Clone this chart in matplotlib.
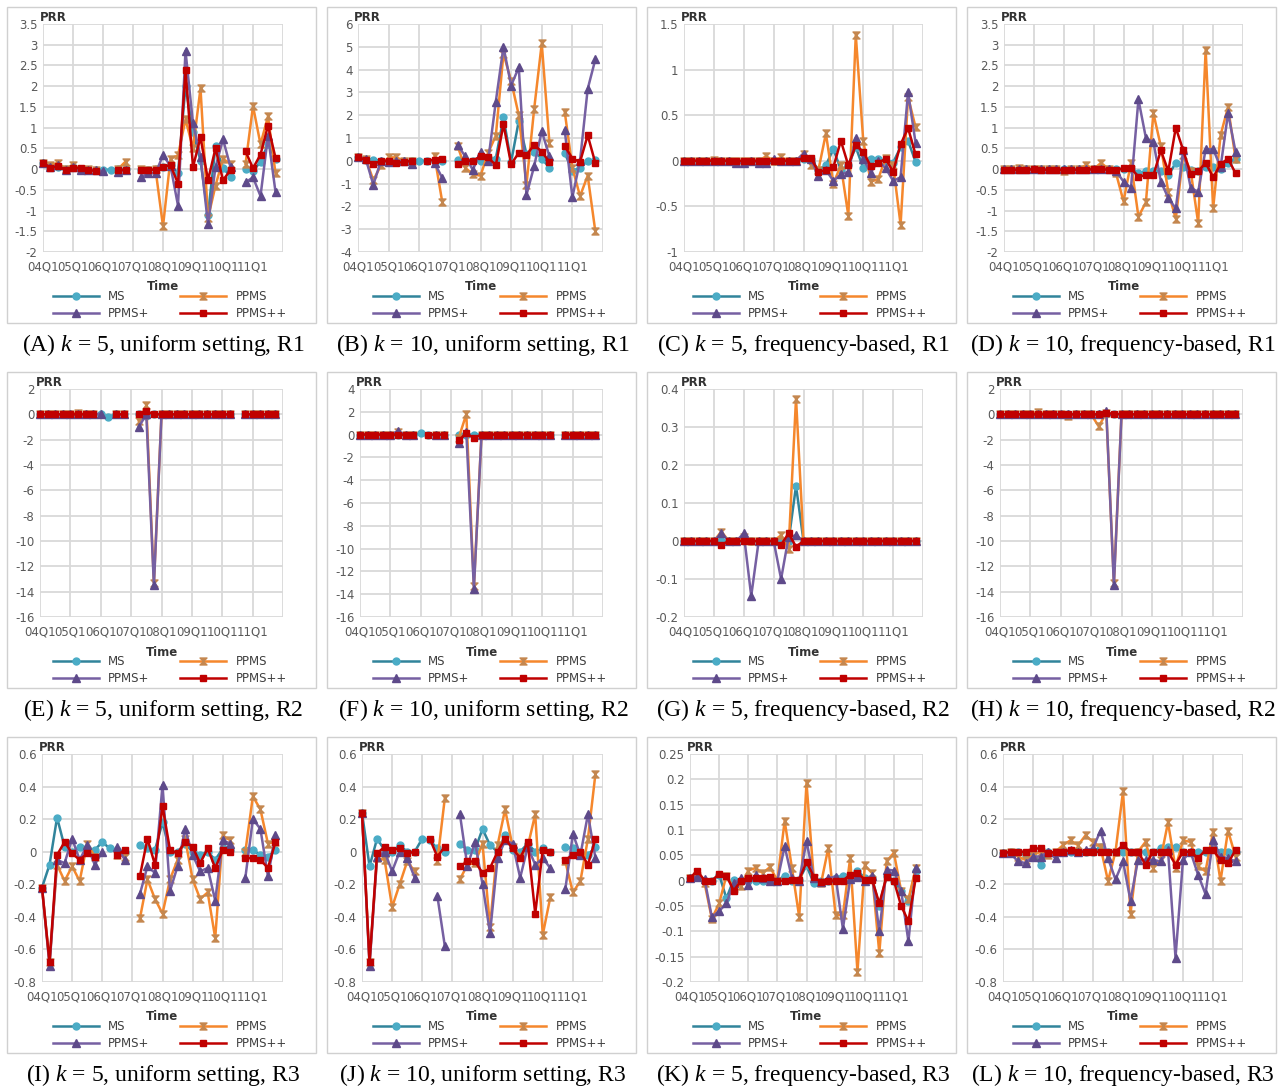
import numpy as np
import matplotlib
matplotlib.use("Agg")
import matplotlib.pyplot as plt
from matplotlib.path import Path
from matplotlib.patches import Rectangle

plt.rcParams["font.family"] = ["DejaVu Sans"]
plt.rcParams["axes.unicode_minus"] = False
plt.rcParams["mathtext.fontset"] = "custom"
plt.rcParams["mathtext.rm"] = "Liberation Serif"
plt.rcParams["mathtext.it"] = "Liberation Serif:italic"

n = None

# eixo do tempo: 32 trimestres, 04Q1 .. 11Q4
quarters = [f"{y:02d}Q{q}" for y in range(4, 12) for q in range(1, 5)]
year_labels = ["04Q1", "05Q1", "06Q1", "07Q1", "08Q1", "09Q1", "10Q1", "11Q1"]
series_names = ["MS", "PPMS", "PPMS+", "PPMS++"]

# (A) k=5, uniform, R1
a_ms = [0.15, 0.08, 0.05, 0.0, 0.05, 0.0, -0.03, -0.03, -0.03, -0.01, 0.0, 0.0, n, -0.02, -0.02, 0.0,
        0.05, 0.1, -0.1, 2.0, 0.9, 0.2, -1.1, 0.55, 0.03, -0.18, n, 0.0, -0.05, 0.18, 0.6, 0.25]
a_ppms = [0.15, 0.1, 0.15, 0.0, 0.1, 0.0, 0.0, -0.03, n, n, 0.0, 0.18, n, 0.0, -0.02, 0.0,
          -1.38, 0.25, 0.33, 1.2, 0.5, 1.95, -1.18, -0.4, 0.25, 0.12, n, 0.12, 1.52, 0.6, 1.27, -0.1]
a_plus = [0.15, 0.05, 0.1, -0.03, 0.05, -0.02, -0.02, -0.02, -0.05, n, -0.08, -0.02, n, -0.2, -0.1, -0.1,
          0.33, 0.08, -0.88, 2.85, 1.1, 0.3, -1.33, 0.05, 0.72, 0.05, n, -0.32, -0.2, -0.65, 0.8, -0.55]
a_pp = [0.15, 0.03, 0.07, -0.02, 0.02, 0.03, -0.03, -0.04, n, n, -0.02, -0.02, n, -0.02, -0.02, -0.01,
        0.05, 0.1, -0.35, 2.38, 0.05, 0.77, -0.27, 0.5, -0.27, -0.02, n, 0.43, 0.02, 0.35, 1.05, 0.27]

# (B) k=10, uniform, R1
b_ms = [0.15, 0.05, 0.05, 0.0, 0.0, 0.0, 0.0, 0.0, 0.0, 0.0, 0.0, 0.0, n, 0.05, 0.0, 0.0,
        0.0, 0.1, 0.1, 1.9, -0.05, 1.75, 0.3, 0.4, 0.1, -0.3, n, 0.35, -0.45, -0.3, 0.0, 0.05]
b_ppms = [0.15, 0.1, -0.85, -0.2, 0.15, 0.15, 0.0, 0.0, n, n, 0.2, -1.8, n, 0.65, -0.3, -0.6,
          -0.65, 0.35, 1.1, 4.7, 3.5, 2.0, -1.05, 2.25, 5.15, 0.8, n, 2.15, -0.3, -1.55, -0.65, -3.1]
b_plus = [0.15, 0.1, -1.05, 0.0, -0.05, 0.0, 0.0, -0.12, n, n, -0.1, -0.75, n, 0.7, 0.2, -0.4,
          0.4, 0.0, 2.6, 5.0, 3.3, 4.1, -1.5, -0.25, 1.3, 0.2, n, 1.35, -1.6, 0.0, 3.15, 4.45]
b_pp = [0.15, 0.05, -0.15, 0.0, 0.0, -0.1, -0.05, 0.0, n, 0.0, 0.05, 0.07, n, -0.15, 0.0, 0.0,
        0.2, 0.15, -0.2, 1.6, -0.15, 0.35, 0.25, 0.7, 0.4, -0.05, n, 0.65, 0.1, -0.05, 1.12, -0.1]

# (C) k=5, frequency-based, R1
c_ms = [0.0, 0.0, 0.0, 0.0, 0.0, 0.0, 0.0, -0.01, -0.01, 0.0, 0.0, 0.0, 0.0, 0.0, 0.0, 0.0,
        0.02, 0.02, -0.1, -0.05, 0.13, -0.1, -0.05, 0.15, -0.08, 0.02, 0.02, 0.0, -0.02, 0.15, 0.22, -0.01]
c_ppms = [0.0, 0.0, 0.0, 0.0, 0.01, 0.0, 0.0, 0.0, 0.0, 0.0, 0.0, 0.05, 0.0, 0.04, 0.0, 0.0,
          0.08, -0.05, -0.1, 0.3, -0.25, -0.05, -0.6, 1.38, 0.22, -0.23, -0.2, 0.03, -0.05, -0.7, 0.7, 0.37]
c_plus = [0.0, 0.0, 0.0, 0.0, 0.0, 0.0, 0.0, -0.02, -0.02, 0.0, -0.02, -0.02, 0.02, 0.0, 0.0, 0.0,
          0.08, 0.02, -0.17, -0.1, -0.22, -0.15, -0.12, 0.25, 0.02, -0.13, 0.0, -0.08, -0.22, -0.18, 0.75, 0.2]
c_pp = [0.0, 0.0, 0.0, 0.0, 0.0, 0.0, 0.0, 0.0, 0.0, 0.0, 0.0, 0.0, 0.0, 0.0, 0.0, 0.0,
        0.03, 0.03, -0.12, -0.1, -0.07, 0.22, -0.05, 0.17, 0.1, -0.06, -0.02, 0.02, -0.12, 0.18, 0.36, 0.07]

# (D) k=10, frequency-based, R1
d_ms = [0.0, 0.0, 0.0, 0.0, 0.0, 0.0, 0.0, 0.0, 0.0, 0.0, 0.0, 0.0, 0.0, 0.0, 0.0, 0.0,
        0.0, 0.0, -0.1, -0.05, -0.05, -0.05, -0.15, 0.15, 0.05, -0.02, -0.05, 0.05, 0.05, 0.0, 0.15, 0.25]
d_ppms = [0.0, 0.0, 0.03, 0.0, 0.0, 0.0, 0.0, 0.0, -0.05, 0.0, 0.0, 0.1, 0.0, 0.15, 0.0, -0.1,
          -0.78, 0.15, -1.15, -0.8, 1.35, 0.55, -0.55, -1.2, 0.35, -0.05, -1.3, 2.88, -0.95, 0.82, 1.5, 0.25]
d_plus = [0.0, 0.0, 0.0, 0.0, 0.0, 0.0, 0.0, 0.0, 0.0, 0.0, 0.0, 0.0, 0.0, 0.0, 0.0, -0.05,
          -0.3, -0.45, 1.68, 0.75, 0.65, -0.3, -0.7, -0.95, 0.45, -0.45, -0.55, 0.48, 0.48, 0.05, 1.35, 0.42]
d_pp = [-0.02, -0.02, -0.02, -0.02, 0.0, -0.02, -0.02, -0.02, -0.02, -0.02, -0.02, -0.02, 0.0, 0.0, -0.02, -0.02,
        0.02, 0.02, -0.18, -0.15, -0.15, 0.45, -0.05, 1.0, 0.45, -0.12, -0.05, 0.15, -0.2, 0.12, 0.25, -0.1]

# (E) k=5, uniform, R2
e_ms = [0.0, 0.0, 0.0, 0.0, 0.0, 0.0, 0.0, 0.0, 0.0, -0.2, 0.0, 0.0, n, 0.0, -0.1, 0.05,
        0.0, 0.0, 0.0, 0.0, 0.0, 0.0, 0.0, 0.0, 0.0, 0.0, n, 0.0, 0.0, 0.0, 0.0, 0.0]
e_ppms = [0.0, 0.0, 0.0, 0.0, 0.05, 0.1, 0.0, 0.0, n, n, 0.0, 0.0, n, -0.5, 0.7, -13.3,
          0.0, 0.0, 0.0, 0.0, 0.0, 0.0, 0.0, 0.0, 0.0, 0.0, n, 0.0, 0.0, 0.0, 0.0, 0.0]
e_plus = [0.0, 0.0, 0.0, 0.0, 0.0, 0.0, 0.0, 0.0, 0.05, n, 0.0, 0.0, n, -1.0, 0.0, -13.5,
          0.0, 0.0, 0.0, 0.0, 0.0, 0.0, 0.0, 0.0, 0.0, 0.0, n, 0.0, 0.0, 0.0, 0.0, 0.0]
e_pp = [0.0, 0.0, 0.0, 0.0, 0.0, 0.0, 0.0, 0.0, n, n, 0.0, 0.0, n, 0.0, 0.25, 0.0,
        0.0, 0.0, 0.0, 0.0, 0.0, 0.0, 0.0, 0.0, 0.0, 0.0, n, 0.0, 0.0, 0.0, 0.0, 0.0]

# (F) k=10, uniform, R2
f_ms = [0.0, 0.0, 0.0, 0.0, 0.0, 0.0, 0.0, 0.0, 0.1, 0.0, 0.0, 0.0, n, 0.0, 0.0, 0.0,
        0.0, 0.0, 0.0, 0.0, 0.0, 0.0, 0.0, 0.0, 0.0, 0.0, n, 0.0, 0.0, 0.0, 0.0, 0.0]
f_ppms = [0.0, 0.0, 0.0, 0.0, 0.0, 0.2, 0.0, 0.0, n, n, 0.0, 0.0, n, -0.3, 1.8, -13.3,
          0.0, 0.0, 0.0, 0.0, 0.0, 0.0, 0.0, 0.0, 0.0, 0.0, n, 0.0, 0.0, 0.0, 0.0, 0.0]
f_plus = [0.0, 0.0, 0.0, 0.0, 0.0, 0.3, 0.0, 0.0, n, n, 0.0, 0.0, n, -0.7, 0.2, -13.5,
          0.0, 0.0, 0.0, 0.0, 0.0, 0.0, 0.0, 0.0, 0.0, 0.0, n, 0.0, 0.0, 0.0, 0.0, 0.0]
f_pp = [0.0, 0.0, 0.0, 0.0, 0.0, 0.0, 0.0, 0.0, n, 0.0, 0.0, 0.0, n, -0.5, 0.1, -0.3,
        0.0, 0.0, 0.0, 0.0, 0.0, 0.0, 0.0, 0.0, 0.0, 0.0, n, 0.0, 0.0, 0.0, 0.0, 0.0]

# (G) k=5, frequency-based, R2
g_ms = [0.0, 0.0, 0.0, 0.0, 0.0, 0.0, 0.0, 0.0, 0.0, 0.0, 0.0, 0.0, 0.0, 0.0, 0.0, 0.145,
        0.0, 0.0, 0.0, 0.0, 0.0, 0.0, 0.0, 0.0, 0.0, 0.0, 0.0, 0.0, 0.0, 0.0, 0.0, 0.0]
g_ppms = [0.0, 0.0, 0.0, 0.0, 0.0, 0.025, 0.0, 0.0, 0.01, 0.0, 0.0, 0.0, 0.0, 0.015, -0.02, 0.375,
          0.0, 0.0, 0.0, 0.0, 0.0, 0.0, 0.0, 0.0, 0.0, 0.0, 0.0, 0.0, 0.0, 0.0, 0.0, 0.0]
g_plus = [0.0, 0.0, 0.0, 0.0, 0.0, 0.02, 0.0, 0.0, 0.02, -0.145, 0.0, 0.0, 0.0, -0.1, 0.01, 0.015,
          0.0, 0.0, 0.0, 0.0, 0.0, 0.0, 0.0, 0.0, 0.0, 0.0, 0.0, 0.0, 0.0, 0.0, 0.0, 0.0]
g_pp = [0.0, 0.0, 0.0, 0.0, 0.0, -0.01, 0.0, 0.0, 0.0, 0.0, 0.0, 0.0, 0.0, -0.01, 0.02, -0.015,
        0.0, 0.0, 0.0, 0.0, 0.0, 0.0, 0.0, 0.0, 0.0, 0.0, 0.0, 0.0, 0.0, 0.0, 0.0, 0.0]

# (H) k=10, frequency-based, R2
h_ms = [0.0, 0.0, 0.0, 0.0, 0.0, 0.0, 0.0, 0.0, 0.05, 0.0, 0.0, 0.0, 0.0, 0.0, 0.0, 0.0,
        0.0, 0.0, 0.0, 0.0, 0.0, 0.0, 0.0, 0.0, 0.0, 0.0, 0.0, 0.0, 0.0, 0.0, 0.0, 0.0]
h_ppms = [0.0, 0.0, 0.0, 0.0, 0.0, 0.2, 0.0, 0.0, 0.0, -0.1, 0.0, 0.0, 0.0, -0.95, 0.1, -13.3,
          0.0, 0.0, 0.0, 0.0, 0.0, 0.0, 0.0, 0.0, 0.0, 0.0, 0.0, 0.0, 0.0, 0.0, 0.0, 0.0]
h_plus = [0.0, 0.0, 0.0, 0.0, 0.0, 0.0, 0.0, 0.0, 0.0, 0.0, 0.0, 0.0, 0.0, 0.0, 0.3, -13.5,
          0.0, 0.0, 0.0, 0.0, 0.0, 0.0, 0.0, 0.0, 0.0, 0.0, 0.0, 0.0, 0.0, 0.0, 0.0, 0.0]
h_pp = [0.0, 0.0, 0.0, 0.0, 0.0, 0.0, 0.0, 0.0, 0.0, 0.0, 0.0, 0.0, 0.0, 0.0, 0.1, 0.05,
        0.0, 0.0, 0.0, 0.0, 0.0, 0.0, 0.0, 0.0, 0.0, 0.0, 0.0, 0.0, 0.0, 0.0, 0.0, 0.0]

# (I) k=5, uniform, R3
i_ms = [-0.22, -0.08, 0.21, 0.03, 0.0, 0.03, 0.02, 0.01, 0.06, 0.02, 0.01, 0.0, n, 0.04, 0.02, 0.01,
        0.18, 0.0, 0.0, 0.05, 0.0, -0.02, 0.0, -0.05, 0.02, 0.01, n, 0.01, 0.01, -0.02, -0.03, 0.01]
i_ppms = [-0.22, -0.68, -0.08, -0.18, -0.09, -0.18, 0.05, -0.03, n, n, -0.02, -0.03, n, -0.41, -0.17, -0.29,
          -0.38, -0.17, -0.05, 0.08, -0.17, -0.29, -0.25, -0.53, 0.1, 0.07, n, 0.0, 0.34, 0.26, 0.05, 0.06]
i_plus = [-0.22, -0.7, -0.05, -0.07, 0.08, -0.05, 0.04, -0.08, 0.0, n, 0.03, -0.05, n, -0.26, -0.09, -0.13,
          0.41, -0.24, -0.09, 0.14, -0.02, -0.12, -0.1, -0.3, 0.07, 0.05, n, -0.16, 0.2, 0.14, -0.15, 0.1]
i_pp = [-0.22, -0.68, -0.02, 0.06, -0.01, -0.05, -0.01, -0.03, n, n, -0.02, 0.01, n, -0.15, 0.08, -0.08,
        0.28, 0.01, -0.01, 0.06, 0.03, -0.07, 0.02, -0.1, 0.01, 0.0, n, -0.04, -0.04, -0.05, -0.1, 0.06]

# (J) k=10, uniform, R3
j_ms = [0.24, -0.09, 0.08, 0.01, 0.0, 0.04, 0.0, 0.0, 0.08, 0.07, 0.02, 0.0, n, 0.05, 0.01, 0.01,
        0.14, 0.04, 0.0, 0.1, 0.01, 0.0, 0.05, 0.0, 0.02, 0.0, n, 0.03, 0.02, 0.0, -0.02, 0.03]
j_ppms = [0.24, -0.68, -0.04, -0.05, -0.34, -0.2, -0.06, -0.12, n, n, -0.06, 0.33, n, -0.17, -0.08, -0.07,
          0.05, -0.46, 0.04, 0.26, 0.03, -0.03, 0.03, 0.23, -0.51, -0.28, n, -0.06, -0.25, -0.18, 0.08, 0.48]
j_plus = [0.24, -0.7, -0.03, 0.0, -0.12, 0.0, -0.04, -0.16, n, n, -0.27, -0.58, n, 0.23, -0.09, 0.06,
          -0.2, -0.5, -0.04, 0.07, 0.05, -0.16, 0.03, -0.08, -0.04, -0.1, n, -0.23, 0.11, -0.02, 0.23, -0.04]
j_pp = [0.24, -0.68, -0.01, 0.03, 0.01, 0.02, -0.01, 0.0, n, 0.08, -0.03, 0.03, n, -0.09, -0.06, -0.06,
        -0.13, -0.1, 0.0, 0.08, 0.02, -0.04, 0.06, -0.38, 0.01, 0.0, n, -0.05, -0.02, 0.0, -0.08, 0.08]

# (K) k=5, frequency-based, R3
k_ms = [0.005, 0.01, 0.0, 0.0, 0.012, -0.035, 0.002, 0.0, 0.0, 0.0, 0.0, 0.0, 0.0, 0.01, 0.0, 0.002,
        0.03, -0.005, 0.0, 0.0, 0.005, 0.01, 0.005, 0.02, 0.005, 0.005, -0.05, 0.01, 0.0, -0.02, -0.04, 0.02]
k_ppms = [0.005, 0.01, -0.005, -0.075, -0.045, 0.01, -0.015, -0.01, 0.02, 0.025, 0.015, 0.027, 0.0, 0.118, 0.025, -0.072,
          0.193, 0.005, -0.005, 0.065, -0.068, -0.068, 0.045, -0.18, 0.03, 0.015, -0.143, 0.038, 0.055, -0.02, -0.037, 0.025]
k_plus = [0.005, 0.008, 0.003, -0.072, -0.06, -0.045, -0.005, 0.005, -0.008, 0.012, 0.005, 0.0, 0.0, 0.068, 0.005, 0.0,
          0.078, 0.005, -0.002, 0.005, 0.008, -0.095, 0.003, 0.008, 0.0, 0.01, -0.1, 0.022, 0.02, -0.02, -0.12, 0.025]
k_pp = [0.005, 0.02, 0.0, 0.0, 0.013, 0.01, -0.02, 0.0, 0.005, 0.005, 0.005, 0.008, 0.0, 0.0, 0.002, 0.002,
        0.037, 0.008, -0.003, 0.0, 0.0, 0.0, 0.012, 0.015, 0.002, 0.002, -0.045, 0.008, 0.0, -0.05, -0.08, 0.005]

# (L) k=10, frequency-based, R3
l_ms = [-0.01, 0.0, 0.0, -0.02, 0.0, -0.08, 0.0, -0.01, 0.0, 0.0, 0.0, 0.0, 0.0, 0.03, 0.0, 0.0,
        0.0, 0.0, 0.0, 0.0, 0.0, 0.02, 0.03, 0.03, 0.0, 0.0, 0.0, 0.0, 0.03, 0.0, 0.0, 0.0]
l_ppms = [-0.01, 0.0, -0.03, -0.05, -0.02, 0.0, -0.02, 0.0, 0.04, 0.07, 0.04, 0.1, 0.06, 0.03, -0.18, 0.0,
          0.37, -0.38, 0.0, 0.06, -0.1, -0.05, 0.18, -0.1, 0.07, 0.06, -0.09, -0.12, 0.12, -0.18, 0.13, -0.03]
l_plus = [-0.01, -0.01, -0.06, -0.07, -0.03, -0.03, 0.0, -0.04, 0.0, 0.01, 0.0, 0.01, 0.02, 0.13, -0.04, -0.17,
          -0.06, -0.3, -0.05, -0.05, -0.05, -0.06, 0.01, -0.65, -0.05, 0.0, -0.14, -0.26, 0.07, -0.03, -0.04, -0.06]
l_pp = [-0.01, 0.0, 0.0, 0.0, 0.02, 0.02, -0.01, 0.0, 0.0, 0.01, 0.0, 0.0, 0.0, 0.0, 0.0, 0.0,
        0.04, 0.0, 0.0, -0.08, 0.0, 0.0, 0.0, -0.08, 0.0, 0.0, -0.04, 0.01, 0.01, -0.05, -0.07, 0.01]

captions = [
    "(A) $k$ = 5, uniform setting, R1", "(B) $k$ = 10, uniform setting, R1",
    "(C) $k$ = 5, frequency-based, R1", "(D) $k$ = 10, frequency-based, R1",
    "(E) $k$ = 5, uniform setting, R2", "(F) $k$ = 10, uniform setting, R2",
    "(G) $k$ = 5, frequency-based, R2", "(H) $k$ = 10, frequency-based, R2",
    "(I) $k$ = 5, uniform setting, R3", "(J) $k$ = 10, uniform setting, R3",
    "(K) $k$ = 5, frequency-based, R3", "(L) $k$ = 10, frequency-based, R3",
]
panel_data = [
    (a_ms, a_ppms, a_plus, a_pp), (b_ms, b_ppms, b_plus, b_pp),
    (c_ms, c_ppms, c_plus, c_pp), (d_ms, d_ppms, d_plus, d_pp),
    (e_ms, e_ppms, e_plus, e_pp), (f_ms, f_ppms, f_plus, f_pp),
    (g_ms, g_ppms, g_plus, g_pp), (h_ms, h_ppms, h_plus, h_pp),
    (i_ms, i_ppms, i_plus, i_pp), (j_ms, j_ppms, j_plus, j_pp),
    (k_ms, k_ppms, k_plus, k_pp), (l_ms, l_ppms, l_plus, l_pp),
]
# (ymin, ymax, passo)
y_axes = [(-2, 3.5, 0.5), (-4, 6, 1), (-1, 1.5, 0.5), (-2, 3.5, 0.5),
          (-16, 2, 2), (-16, 4, 2), (-0.2, 0.4, 0.1), (-16, 2, 2),
          (-0.8, 0.6, 0.2), (-0.8, 0.6, 0.2), (-0.2, 0.25, 0.05), (-0.8, 0.6, 0.2)]
left_pad = [36, 31, 37, 37, 33, 33, 37, 33, 35, 35, 43, 36]

# marcador "estrela" do Excel (ampulheta)
hourglass = Path([(-1, 1), (1, 1), (-1, -1), (1, -1), (-1, 1)],
                 [Path.MOVETO, Path.LINETO, Path.LINETO, Path.LINETO, Path.CLOSEPOLY])
styles = [
    dict(color="#31849B", marker="o", mfc="#4BACC6", mec="#4BACC6", ms=5.0),
    dict(color="#F5872C", marker=hourglass, mfc="#C4874F", mec="#C4874F", ms=5.0),
    dict(color="#7660A2", marker="^", mfc="#5E4A8A", mec="#5E4A8A", ms=5.5),
    dict(color="#C00000", marker="s", mfc="#C00000", mec="#C00000", ms=5.0),
]

W, H = 1284, 1086
fig = plt.figure(figsize=(W / 100, H / 100), dpi=100)
tick_col = "#595959"
grid_col = "#d9d9d9"
fs = 8.5
x = np.arange(len(quarters))

for idx in range(12):
    r, c = divmod(idx, 4)
    bl, bt = 7 + 320 * c, 7 + 365 * r
    bw, bh = 309, 316

    fig.patches.append(Rectangle((bl / W, 1 - (bt + bh) / H), bw / W, bh / H,
                                 transform=fig.transFigure, fill=False,
                                 ec="#d0d0d0", lw=1.0))

    al = bl + left_pad[idx]
    ar = bl + bw - 33
    at, ab = bt + 17, bt + 245
    ax = fig.add_axes([al / W, 1 - ab / H, (ar - al) / W, (ab - at) / H])

    lines = []
    for s, (vals, st) in enumerate(zip(panel_data[idx], styles)):
        y = np.array(vals, dtype=float)
        ln, = ax.plot(x, y, lw=1.8, clip_on=False, zorder=3 + s, label=series_names[s], **st)
        lines.append(ln)

    ymin, ymax, step = y_axes[idx]
    yt = np.round(np.arange(ymin, ymax + step / 2, step), 2)
    ax.set_ylim(ymin, ymax)
    ax.set_yticks(yt)
    ax.set_yticklabels([f"{v:g}" if abs(v) > 1e-9 else "0" for v in yt])
    ax.set_xlim(0, 32)
    ax.set_xticks(range(0, 33, 4))
    ax.set_xticklabels(year_labels + [""])
    ax.tick_params(length=0, labelsize=fs, colors=tick_col)
    ax.tick_params(axis="y", pad=4)
    ax.tick_params(axis="x", pad=6)
    for sp in ax.spines.values():
        sp.set_visible(False)
    ax.grid(True, color=grid_col, lw=1.3)
    ax.set_axisbelow(True)

    ax.text(-0.015, 1.0, "PRR", transform=ax.transAxes, ha="left", va="bottom",
            fontsize=fs, fontweight="bold", color="#333333")

    cx = (al + ar) / 2
    fig.text(cx / W, 1 - (bt + 280) / H, "Time", ha="center", va="center",
             fontsize=fs, fontweight="bold", color="#333333")

    order = [lines[0], lines[2], lines[1], lines[3]]
    ax.legend(order, [l.get_label() for l in order], loc="center",
              bbox_to_anchor=((bl + 163) / W, 1 - (bt + 298) / H),
              bbox_transform=fig.transFigure, ncol=2, frameon=False,
              fontsize=fs, handlelength=3.9, handletextpad=0.8,
              columnspacing=2.6, labelspacing=0.3, borderpad=0,
              labelcolor="#404040")

    fig.text((bl + 156) / W, 1 - (bt + 338) / H, captions[idx], ha="center", va="center",
             fontsize=17, family="Liberation Serif", color="black")

fig.savefig("out.png", dpi=100, facecolor="white")
